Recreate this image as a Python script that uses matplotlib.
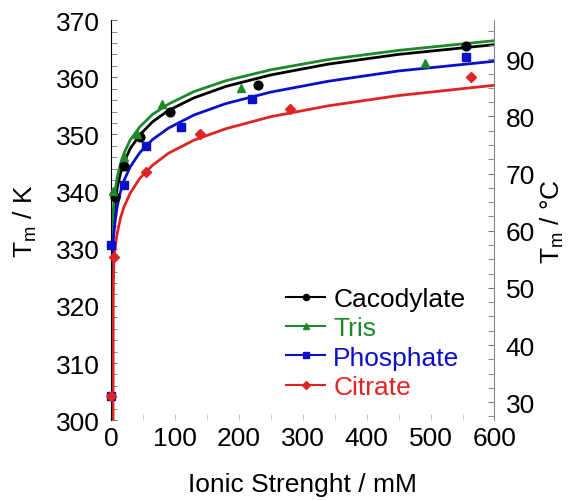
import matplotlib
matplotlib.use("Agg")
import matplotlib.pyplot as plt
from matplotlib.lines import Line2D
from matplotlib.ticker import MultipleLocator

plt.rcParams['font.family'] = ['Liberation Sans', 'DejaVu Sans']
plt.rcParams['mathtext.default'] = 'regular'

# measured melting temperatures (K) vs ionic strength (mM)
caco_x = [6.3, 21, 45, 92, 230, 555]
caco_y = [339.0, 344.5, 349.6, 354.0, 358.6, 365.5]
tris_x = [3.6, 20, 41, 80, 203, 492]
tris_y = [340.1, 346.1, 350.0, 355.4, 358.2, 362.5]
phos_x = [0, 0.5, 21, 55, 110, 221, 555]
phos_y = [304.2, 330.6, 341.1, 347.9, 351.3, 356.2, 363.6]
citr_x = [0, 4.7, 55, 139, 280, 563]
citr_y = [304.2, 328.6, 343.4, 350.1, 354.5, 360.0]

# fitted curves
fit_x = [0.005, 0.1, 0.5, 1, 2, 4, 7, 10, 15, 20, 30, 45, 65, 90, 130, 180, 250, 340, 450, 600]
caco_fit = [294.5, 312.7, 322.5, 326.8, 331.0, 335.2, 338.6, 340.8, 343.2, 345.0, 347.5, 349.9,
            352.2, 354.2, 356.4, 358.4, 360.4, 362.3, 364.0, 365.7]
tris_fit = [298.4, 315.8, 325.2, 329.2, 333.2, 337.3, 340.5, 342.6, 344.9, 346.6, 349.0, 351.3,
            353.5, 355.3, 357.5, 359.4, 361.3, 363.1, 364.7, 366.4]
phos_fit = [290.6, 309.1, 319.0, 323.3, 327.6, 331.9, 335.3, 337.5, 340.0, 341.8, 344.3, 346.8,
            349.1, 351.1, 353.4, 355.4, 357.4, 359.3, 361.1, 362.8]
citr_fit_x = [3.2, 3.6, 4.5, 6, 8, 10, 15, 20, 30, 45, 65, 90, 130, 180, 250, 340, 450, 600]
citr_fit = [298.0, 322.0, 327.8, 329.6, 331.4, 332.8, 335.4, 337.2, 339.7, 342.3, 344.6, 346.7,
            349.0, 351.0, 353.1, 355.0, 356.8, 358.6]

series = [
    ("Cacodylate", caco_x, caco_y, fit_x, caco_fit, "black", "o", 6.3),
    ("Tris", tris_x, tris_y, fit_x, tris_fit, "#1c8a2a", "^", 6.3),
    ("Phosphate", phos_x, phos_y, fit_x, phos_fit, "#0a10c8", "s", 6.3),
    ("Citrate", citr_x, citr_y, citr_fit_x, citr_fit, "#e02424", "D", 5.2),
]

FS = 19

fig = plt.figure(figsize=(5.69, 5.02), dpi=100)
ax = fig.add_axes([0.195, 0.161, 0.674, 0.797])

handles = []
for name, x, y, fx, fy, col, mk, ms in series:
    ax.plot(fx, fy, color=col, lw=2)
    ax.plot(x, y, ls="none", marker=mk, color=col, markersize=ms, clip_on=False, zorder=3)
    handles.append(Line2D([], [], color=col, lw=1.5, marker=mk, markersize=ms * 0.7, label=name))

ax.set_xlim(0, 600)
ax.set_ylim(300, 370)
ax.xaxis.set_major_locator(MultipleLocator(100))
ax.xaxis.set_minor_locator(MultipleLocator(50))
ax.yaxis.set_major_locator(MultipleLocator(10))
ax.yaxis.set_minor_locator(MultipleLocator(2))
ax.tick_params(axis="both", which="both", direction="in", labelsize=FS)
ax.tick_params(axis="x", which="both", color="#c8c8c8", length=4, pad=4)
ax.tick_params(axis="y", which="both", color="#777777", length=4, pad=8)
ax.tick_params(axis="y", right=False)
for s in ["top", "bottom", "right"]:
    ax.spines[s].set_visible(False)
ax.spines["left"].set_color("black")
ax.set_xlabel("Ionic Strenght / mM", fontsize=FS, labelpad=16)
ax.set_ylabel("T$_m$ / K", fontsize=FS, labelpad=12)

ax2 = ax.twinx()
ax2.set_ylim(300 - 273.15, 370 - 273.15)
ax2.yaxis.set_major_locator(MultipleLocator(10))
ax2.yaxis.set_minor_locator(MultipleLocator(2.5))
ax2.tick_params(axis="y", which="both", direction="in", color="#777777", length=4,
                labelsize=FS, pad=8)
for s in ["top", "bottom", "left"]:
    ax2.spines[s].set_visible(False)
ax2.spines["right"].set_color("#888888")
ax2.set_ylabel("T$_m$ / °C", fontsize=FS, labelpad=3)

leg = ax.legend(handles=handles, loc="upper left", bbox_to_anchor=(0.456, 0.333), frameon=False,
                fontsize=FS, handlelength=1.5, handletextpad=0.3, labelspacing=0.2,
                borderpad=0, borderaxespad=0, numpoints=1)
for txt, s in zip(leg.get_texts(), series):
    txt.set_color(s[5])

fig.savefig("out.png", dpi=100)
